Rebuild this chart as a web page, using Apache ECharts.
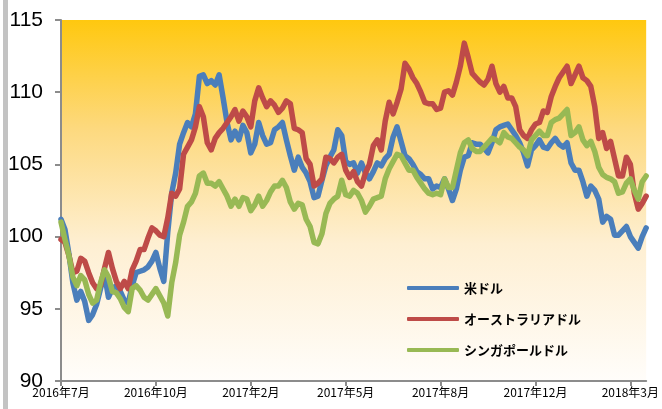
<!DOCTYPE html>
<html>
<head>
<meta charset="utf-8">
<script src="https://cdn.jsdelivr.net/npm/echarts@6/dist/echarts.min.js"></script>
<style>
  html, body { margin: 0; padding: 0; background: #ffffff; }
  #chart { width: 662px; height: 409px; }
</style>
</head>
<body>
<div id="chart"></div>
<script>
// Month labels placed every 24 observations along the date axis
const tickLabels = ['2016年7月', '2016年10月', '2017年2月', '2017年5月', '2017年8月', '2017年12月', '2018年3月'];
const pointsPerTick = 24;

const seriesNames = ['米ドル', 'オーストラリアドル', 'シンガポールドル'];

// Index values (start = 100), one observation every few business days
const usd = [
  101.2, 100.5, 98.8, 96.8, 95.6, 96.2, 95.5, 94.2, 94.6, 95.3,
  96.4, 97.4, 95.8, 96.4, 96.6, 96.2, 95.6, 95.4, 96.6, 97.5,
  97.6, 97.7, 97.9, 98.3, 98.9, 97.8, 96.9, 100.3, 103.0, 104.4,
  106.4, 107.2, 107.9, 107.6, 108.5, 111.1, 111.2, 110.6, 110.8, 110.5,
  111.2, 109.6, 107.9, 106.7, 107.3, 106.7, 107.7, 107.2, 105.8, 106.4,
  107.9, 107.0, 106.4, 106.5, 107.4, 107.6, 107.9, 106.7, 105.6, 104.6,
  105.5, 104.8, 104.4, 103.8, 102.7, 102.8, 103.9, 104.9, 105.5, 106.0,
  107.4, 107.0, 105.2, 105.0, 105.1, 104.4, 105.1, 104.4, 104.0, 104.5,
  105.1, 104.9, 105.4, 105.7, 106.9, 107.6, 106.6, 105.6, 105.4, 105.0,
  104.5, 104.3, 104.0, 104.0, 103.3, 103.5, 103.4, 104.0, 103.3, 102.5,
  103.3, 104.6, 105.5, 105.6, 106.5, 106.4, 106.4, 106.1, 105.8, 106.5,
  107.4, 107.6, 107.7, 107.8, 107.4, 107.0, 106.5, 105.8, 104.9, 106.0,
  106.3, 106.7, 106.2, 106.1, 106.5, 106.8, 106.4, 106.2, 106.5, 105.1,
  104.6, 104.6, 103.8, 102.8, 103.5, 103.2, 102.6, 101.0, 101.4, 101.2,
  100.1, 100.1, 100.4, 100.7, 100.0, 99.6, 99.2, 100.0, 100.6
];

const aud = [
  99.8, 99.6, 98.7, 97.5, 97.6, 98.5, 98.3, 97.5, 96.8, 96.4,
  96.6, 97.8, 98.9, 97.8, 96.9, 96.4, 96.9, 96.4, 97.7, 98.3,
  99.1, 99.1, 99.9, 100.6, 100.4, 100.1, 100.0, 101.3, 103.0, 102.8,
  103.3, 105.7, 106.2, 106.7, 107.6, 109.0, 108.3, 106.5, 106.0, 106.8,
  107.2, 107.5, 107.9, 108.3, 108.8, 108.0, 108.7, 108.3, 107.6, 109.4,
  110.3, 109.6, 109.0, 109.4, 109.1, 108.6, 108.9, 109.4, 109.2, 107.5,
  107.4, 107.2, 105.4, 105.0, 103.5, 103.7, 104.0, 105.5, 105.4, 105.1,
  105.5, 105.7, 104.6, 104.1, 104.5, 103.8, 103.5, 104.4, 105.0, 106.3,
  106.7, 106.0, 108.0, 109.3, 108.5, 109.3, 110.2, 112.0, 111.6, 111.0,
  110.6, 110.0, 109.3, 109.2, 109.2, 108.8, 108.9, 110.0, 110.1, 109.8,
  110.7, 111.8, 113.4, 112.4, 111.3, 111.0, 110.7, 110.5, 110.9, 111.8,
  110.6, 110.0, 110.4, 109.6, 109.6, 109.0, 107.4, 107.0, 106.8, 107.4,
  107.8, 107.9, 108.7, 108.6, 109.7, 110.4, 111.0, 111.4, 111.8, 110.6,
  111.2, 111.8, 111.0, 110.8, 110.4, 109.0, 106.8, 107.2, 106.1, 106.6,
  105.4, 104.2, 104.2, 105.5, 105.0, 103.0, 101.9, 102.3, 102.8
];

const sgd = [
  101.0, 99.8, 98.7, 97.2, 96.6, 97.3, 97.0, 96.0, 95.4, 95.6,
  96.8, 97.7, 97.2, 96.2, 96.1, 95.7, 95.1, 94.8, 96.4, 96.6,
  96.3, 95.8, 95.6, 96.0, 96.4, 95.9, 95.4, 94.5, 96.8, 98.2,
  100.1, 101.0, 102.1, 102.4, 103.0, 104.2, 104.4, 103.7, 103.7, 103.5,
  103.8, 103.3, 102.8, 102.1, 102.6, 102.1, 102.7, 102.6, 101.8, 102.2,
  102.8, 102.1, 102.5, 103.1, 103.5, 103.5, 103.9, 103.4, 102.4, 101.9,
  102.3, 102.2, 101.2, 100.7, 99.6, 99.5, 100.2, 101.6, 102.3, 102.6,
  102.8, 103.9, 102.9, 102.8, 103.2, 103.0, 102.5, 101.7, 102.1, 102.6,
  102.7, 102.8, 104.0, 104.7, 105.2, 105.7, 105.6, 105.1, 104.6, 104.6,
  104.1, 103.7, 103.3, 103.0, 102.9, 103.0, 102.9, 104.0, 103.4, 103.4,
  104.6, 105.8, 106.5, 106.7, 106.1, 105.9, 105.9, 106.2, 106.5, 106.8,
  106.7, 106.5, 107.2, 106.9, 106.8, 106.5, 106.2, 106.0, 105.6, 106.7,
  107.0, 107.3, 107.0, 107.0, 107.9, 108.1, 108.2, 108.5, 108.8, 107.0,
  107.2, 107.6, 106.7, 106.3, 106.6, 105.9, 104.8, 104.3, 104.1, 104.0,
  103.8, 103.0, 103.1, 103.7, 104.0, 103.2, 102.6, 103.8, 104.2
];

const categories = usd.map((_, i) => i);
const seriesValues = [usd, aud, sgd];
const seriesColors = ['#4A7EBB', '#BE4B48', '#98B954'];

const chart = echarts.init(document.getElementById('chart'), null, { renderer: 'canvas' });

chart.setOption({
  animation: false,
  backgroundColor: '#ffffff',
  graphic: [{
    type: 'rect',
    shape: { x: 3, y: 0, width: 5, height: 409 },
    style: { fill: '#c3c3c3' },
    silent: true
  }],
  grid: {
    left: 61, right: 10, top: 20, bottom: 28,
    show: true,
    borderWidth: 0,
    backgroundColor: new echarts.graphic.LinearGradient(0, 0, 0, 1, [
      { offset: 0, color: '#FFC80F' },
      { offset: 0.3, color: '#FDD97E' },
      { offset: 0.62, color: '#FEEFD2' },
      { offset: 1, color: '#FFFDFA' }
    ])
  },
  legend: {
    orient: 'vertical',
    left: 407,
    top: 280,
    padding: 0,
    itemWidth: 52,
    itemHeight: 4,
    itemGap: 15,
    icon: 'roundRect',
    textStyle: {
      fontFamily: '"Noto Sans CJK JP", sans-serif',
      fontSize: 13,
      fontWeight: 'bold',
      color: '#000000',
      lineHeight: 16
    },
    data: seriesNames
  },
  xAxis: {
    type: 'category',
    data: categories,
    boundaryGap: false,
    axisLine: { lineStyle: { color: '#8C8C8C', width: 2 } },
    axisTick: { interval: pointsPerTick - 1, length: 5, lineStyle: { color: '#8C8C8C', width: 2 } },
    axisLabel: {
      interval: pointsPerTick - 1,
      margin: 5,
      fontFamily: '"Noto Sans CJK JP", sans-serif',
      fontSize: 12,
      color: '#000000',
      formatter: (value, idx) => tickLabels[Math.round(idx / pointsPerTick)] || ''
    },
    splitLine: { show: false }
  },
  yAxis: {
    type: 'value',
    min: 90,
    max: 115,
    interval: 5,
    axisLine: { show: true, lineStyle: { color: '#8C8C8C', width: 2 } },
    axisTick: { show: true, length: 6, lineStyle: { color: '#8C8C8C', width: 2 } },
    axisLabel: {
      margin: 18,
      fontFamily: '"Liberation Sans Narrow", "Arial Narrow", "Liberation Sans", sans-serif',
      fontSize: 21,
      color: '#000000'
    },
    splitLine: { show: false }
  },
  series: seriesNames.map((name, k) => ({
    name: name,
    type: 'line',
    data: seriesValues[k],
    showSymbol: false,
    symbol: 'none',
    color: seriesColors[k],
    lineStyle: { width: 5.5, color: seriesColors[k], cap: 'round', join: 'round' },
    z: 2 + k
  }))
});
</script>
</body>
</html>
